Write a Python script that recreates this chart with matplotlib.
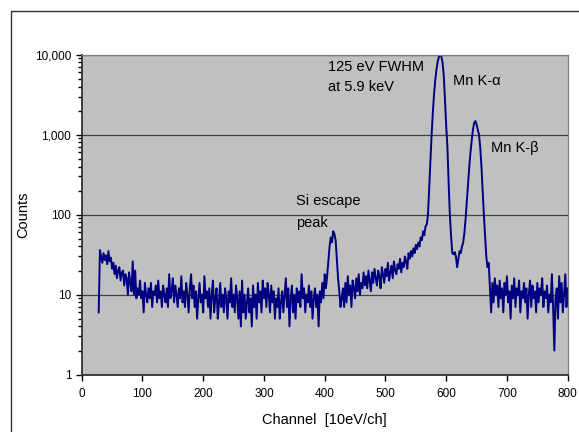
import numpy as np
import matplotlib
matplotlib.use('Agg')
import matplotlib.pyplot as plt
from matplotlib.patches import Rectangle
from matplotlib.ticker import FuncFormatter, LogLocator, NullFormatter

plt.rcParams['font.family'] = ['Liberation Sans', 'DejaVu Sans']

# スペクトルデータ (2チャンネルおき, 28ch から)
first_channel = 28
channel_step = 2
counts = [
    6, 36, 30, 25, 33, 27, 31, 24, 35, 26,          # 28-46
    29, 21, 25, 18, 23, 16, 20, 22, 15, 19,         # 48-66
    20, 13, 18, 16, 10, 19, 14, 11, 26, 10,         # 68-86
    20, 9, 12, 10, 15, 9, 11, 6, 14, 10,            # 88-106
    8, 12, 9, 14, 7, 11, 10, 13, 8, 15,             # 108-126
    9, 11, 7, 13, 10, 8, 12, 7, 18, 9,              # 128-146
    11, 16, 8, 13, 10, 7, 12, 9, 17, 8,             # 148-166
    11, 7, 14, 10, 6, 12, 18, 9, 13, 7,             # 168-186
    11, 5, 9, 14, 8, 10, 6, 17, 9, 11,              # 188-206
    7, 12, 5, 10, 15, 6, 9, 12, 5, 8,               # 208-226
    14, 7, 10, 6, 12, 9, 5, 11, 8, 16,              # 228-246
    7, 10, 6, 13, 9, 5, 11, 4, 15, 6,               # 248-266
    10, 5, 8, 12, 6, 9, 4, 13, 7, 10,               # 268-286
    5, 14, 8, 11, 6, 15, 9, 12, 7, 14,              # 288-306
    10, 6, 13, 8, 11, 5, 9, 7, 12, 5,               # 308-326
    8, 11, 6, 10, 16, 7, 12, 4, 9, 13,              # 328-346
    6, 10, 5, 12, 8, 11, 7, 18, 9, 12,              # 348-366
    6, 10, 8, 13, 7, 11, 5, 9, 12, 7,               # 368-386
    10, 4, 11, 8, 14, 9, 18, 12, 17, 26,            # 388-406
    40, 52, 45, 62, 57, 48, 28, 16, 11, 7,          # 408-426
    9, 12, 7, 14, 8, 17, 10, 13, 7, 15,             # 428-446
    12, 9, 16, 11, 18, 10, 14, 12, 19, 13,          # 448-466
    17, 12, 20, 15, 11, 19, 14, 21, 16, 13,         # 468-486
    20, 17, 12, 22, 18, 14, 21, 17, 25, 15,         # 488-506
    19, 23, 16, 26, 20, 18, 24, 21, 28, 19,         # 508-526
    25, 22, 30, 26, 21, 33, 28, 35, 30, 38,         # 528-546
    33, 42, 37, 45, 40, 52, 48, 62, 55, 72,         # 548-566
    75, 100, 220, 500, 1000, 1900, 3200, 4800, 6500, 8200,   # 568-586
    9400, 9900, 9500, 8000, 5500, 2600, 1300, 700, 250, 100, # 588-606
    55, 33, 32, 34, 30, 22, 28, 35, 33, 40,         # 608-626
    45, 60, 90, 150, 250, 400, 600, 850, 1150, 1400,         # 628-646
    1480, 1350, 1150, 1000, 700, 400, 200, 100, 55, 30,      # 648-666
    22, 25, 12, 6, 14, 8, 16, 10, 13, 7,            # 668-686
    15, 9, 12, 6, 14, 10, 17, 8, 11, 5,             # 688-706
    13, 9, 16, 7, 12, 10, 15, 6, 11, 9,             # 708-726
    14, 8, 12, 5, 10, 15, 7, 13, 9, 11,             # 728-746
    6, 14, 8, 12, 10, 16, 7, 11, 9, 13,             # 748-766
    6, 10, 8, 18, 7, 2, 9, 12, 5, 17,               # 768-786
    8, 14, 6, 10, 18, 7, 12,                        # 788-800
]
channels = first_channel + channel_step * np.arange(len(counts))

x_ticks = [0, 100, 200, 300, 400, 500, 600, 700, 800]
y_ticks = [1, 10, 100, 1000, 10000]

fig = plt.figure(figsize=(5.79, 4.32), dpi=100)
# 外枠 (右下ははみ出す)
fig.patches.append(Rectangle((11 / 579, -0.1), 1.2, 1.1 - 11 / 432,
                             transform=fig.transFigure, fill=False,
                             edgecolor='#333333', linewidth=1.0))

ax = fig.add_axes([81.7 / 579, 1 - 374.6 / 432, 486 / 579, 319.9 / 432])
ax.set_facecolor('#c0c0c0')

ax.plot(channels, counts, color='#000080', linewidth=1.4)

ax.set_yscale('log')
ax.set_ylim(1, 10000)
ax.set_xlim(0, 800)
ax.set_xticks(x_ticks)
ax.set_yticks(y_ticks)
ax.yaxis.set_major_formatter(FuncFormatter(lambda v, p: f'{v:,.0f}'))
ax.yaxis.set_minor_locator(LogLocator(base=10, subs=np.arange(2, 10)))
ax.yaxis.set_minor_formatter(NullFormatter())
ax.tick_params(axis='both', which='major', direction='out', length=4,
               width=1, labelsize=8.5, colors='black')
ax.tick_params(axis='y', which='minor', direction='out', length=3, width=1)
ax.tick_params(axis='x', pad=6)

ax.grid(True, axis='y', which='major', color='#404040', linewidth=0.9)
for s in ['top', 'right']:
    ax.spines[s].set_color('#808080')
    ax.spines[s].set_linewidth(0.9)
for s in ['left', 'bottom']:
    ax.spines[s].set_color('#333333')
    ax.spines[s].set_linewidth(1.3)

ax.set_xlabel('Channel  [10eV/ch]', fontsize=10.5, labelpad=9)
ax.set_ylabel('Counts', fontsize=10.5, labelpad=3)

# 注記
ax.text(405, 7000, '125 eV FWHM', fontsize=10.5, va='center', ha='left')
ax.text(405, 3925, 'at 5.9 keV', fontsize=10.5, va='center', ha='left')
ax.text(611, 4680, 'Mn K-α', fontsize=10.5, va='center', ha='left')
ax.text(674, 676, 'Mn K-β', fontsize=10.5, va='center', ha='left')
ax.text(353, 149, 'Si escape', fontsize=10.5, va='center', ha='left')
ax.text(353, 79, 'peak', fontsize=10.5, va='center', ha='left')

fig.savefig('out.png', dpi=100)
